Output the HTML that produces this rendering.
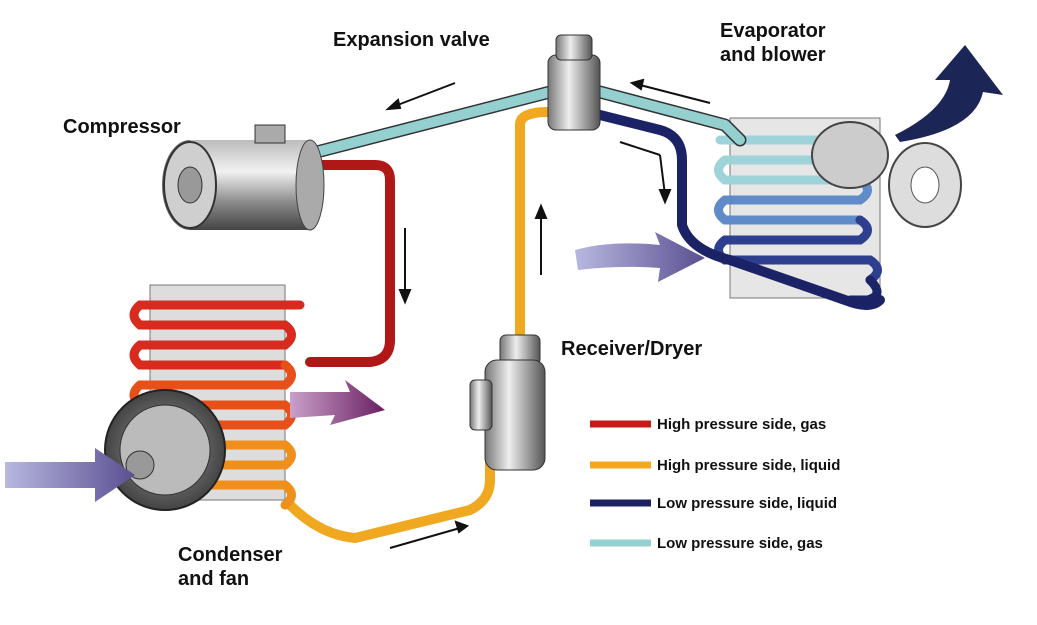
<!DOCTYPE html>
<html><head><meta charset="utf-8"><style>
html,body{margin:0;padding:0;background:#fff;}
svg{display:block;}
text{font-family:"Liberation Sans",Arial,sans-serif;font-weight:bold;fill:#111;}
</style></head><body>
<svg width="1037" height="625" viewBox="0 0 1037 625" xmlns="http://www.w3.org/2000/svg">
<defs>
<linearGradient id="cyl" x1="0" y1="0" x2="0" y2="1">
<stop offset="0" stop-color="#bbb"/><stop offset="0.35" stop-color="#f2f2f2"/><stop offset="0.7" stop-color="#888"/><stop offset="1" stop-color="#444"/></linearGradient>
<linearGradient id="rcv" x1="0" y1="0" x2="1" y2="0">
<stop offset="0" stop-color="#777"/><stop offset="0.4" stop-color="#eee"/><stop offset="1" stop-color="#555"/></linearGradient>
<radialGradient id="fan" cx="0.5" cy="0.5" r="0.5"><stop offset="0" stop-color="#999"/><stop offset="1" stop-color="#444"/></radialGradient>
<linearGradient id="purp" x1="0" y1="0" x2="1" y2="0"><stop offset="0" stop-color="#b8b8e0"/><stop offset="1" stop-color="#5a4f92"/></linearGradient>
<linearGradient id="purp2" x1="0" y1="0" x2="1" y2="0"><stop offset="0" stop-color="#c9a0c9"/><stop offset="1" stop-color="#6a1f62"/></linearGradient>
</defs>

<!-- evaporator frame -->
<rect x="730" y="118" width="150" height="180" fill="#e6e6e6" stroke="#777"/>
<!-- evaporator coils -->
<g fill="none" stroke-width="9" stroke-linecap="round">
<path d="M720 140 H860 Q875 150 860 160 H725 Q712 170 725 180 H860" stroke="#9fd3da"/>
<path d="M860 180 Q875 190 860 200 H725 Q712 210 725 220 H860" stroke="#5f8cc8"/>
<path d="M860 220 Q875 230 860 240 H725 Q712 250 725 260 H870 Q885 270 870 280" stroke="#2d3f8e"/>
<path d="M870 280 Q885 295 868 300 H850" stroke="#1a2466"/>
</g>
<!-- blower -->
<ellipse cx="850" cy="155" rx="38" ry="33" fill="#ccc" stroke="#444" stroke-width="2"/>
<ellipse cx="925" cy="185" rx="36" ry="42" fill="#ddd" stroke="#444" stroke-width="2"/>
<ellipse cx="925" cy="185" rx="14" ry="18" fill="#fff" stroke="#555"/>
<!-- big navy arrow -->
<path d="M895 135 Q945 110 950 80 L935 80 L965 45 L1003 95 L983 92 Q975 130 900 142 Z" fill="#1c2656"/>

<!-- pipes -->
<g fill="none" stroke-linecap="round" stroke-linejoin="round">
<path d="M305 155 L550 92" stroke="#333" stroke-width="13"/>
<path d="M305 155 L550 92" stroke="#94d0d0" stroke-width="10"/>
<path d="M600 92 L725 125 L740 140" stroke="#333" stroke-width="13"/>
<path d="M600 92 L725 125 L740 140" stroke="#94d0d0" stroke-width="10"/>
<path d="M315 165 H375 Q390 165 390 180 V340 Q390 360 370 362 H310" stroke="#b01818" stroke-width="10"/>
<path d="M520 340 V125 Q520 112 548 112" stroke="#f0a820" stroke-width="10"/>
<path d="M290 505 Q320 535 355 538 L470 510 Q490 500 490 480 V450" stroke="#f0a820" stroke-width="10"/>
<path d="M600 115 L660 130 Q682 136 682 160 V225 Q690 250 730 260 L845 300 Q870 310 880 300" stroke="#1c2266" stroke-width="10"/>
</g>

<!-- condenser -->
<rect x="150" y="285" width="135" height="215" fill="#ddd" stroke="#777"/>
<g fill="none" stroke-width="9" stroke-linecap="round">
<path d="M300 305 H140 Q128 315 140 325 H285 Q298 335 285 345 H140 Q128 355 140 365 H285" stroke="#d82a1e"/>
<path d="M285 365 Q298 375 285 385 H140 Q128 395 140 405 H285 Q298 415 285 425 H140" stroke="#e8501a"/>
<path d="M140 425 Q128 435 140 445 H285 Q298 455 285 465 H190 Q178 475 190 485 H285 Q298 495 285 505" stroke="#f0901c"/>
</g>
<!-- fan -->
<circle cx="165" cy="450" r="60" fill="url(#fan)" stroke="#222" stroke-width="2"/>
<circle cx="165" cy="450" r="45" fill="#bbb" stroke="#333"/>
<circle cx="140" cy="465" r="14" fill="#999" stroke="#333"/>
<!-- purple arrows -->
<path d="M5 462 H95 V448 L135 475 L95 502 V488 H5 Z" fill="url(#purp)"/>
<path d="M290 392 H350 L345 380 L385 410 L330 425 L335 415 L290 418 Z" fill="url(#purp2)"/>
<path d="M575 250 Q610 240 660 245 L655 232 L705 258 L658 282 L660 268 Q620 265 578 270 Z" fill="url(#purp)"/>

<!-- compressor -->
<ellipse cx="190" cy="185" rx="28" ry="45" fill="#666"/>
<rect x="190" y="140" width="120" height="90" fill="url(#cyl)"/>
<ellipse cx="310" cy="185" rx="14" ry="45" fill="#aaa" stroke="#444"/>
<ellipse cx="190" cy="185" rx="26" ry="43" fill="#cfcfcf" stroke="#333" stroke-width="2"/>
<ellipse cx="190" cy="185" rx="12" ry="18" fill="#999" stroke="#333"/>
<rect x="255" y="125" width="30" height="18" fill="#aaa" stroke="#333"/>

<!-- expansion valve -->
<rect x="548" y="55" width="52" height="75" rx="8" fill="url(#rcv)" stroke="#333"/>
<rect x="556" y="35" width="36" height="25" rx="5" fill="url(#rcv)" stroke="#333"/>
<!-- receiver -->
<rect x="500" y="335" width="40" height="30" rx="6" fill="url(#rcv)" stroke="#333"/>
<rect x="485" y="360" width="60" height="110" rx="12" fill="url(#rcv)" stroke="#333"/>
<rect x="470" y="380" width="22" height="50" rx="5" fill="url(#rcv)" stroke="#333"/>

<!-- flow arrows -->
<g stroke="#111" stroke-width="2" fill="#111">
<line x1="455" y1="83" x2="395" y2="106"/><polygon points="388,109 398,100 400,108"/>
<line x1="710" y1="103" x2="640" y2="85"/><polygon points="632,83 643,80 641,89"/>
<line x1="620" y1="142" x2="660" y2="155" fill="none"/><line x1="660" y1="155" x2="665" y2="195"/><polygon points="665,202 660,190 670,190"/>
<line x1="405" y1="228" x2="405" y2="295"/><polygon points="405,302 400,290 410,290"/>
<line x1="541" y1="275" x2="541" y2="213"/><polygon points="541,206 536,218 546,218"/>
<line x1="390" y1="548" x2="460" y2="528"/><polygon points="467,526 456,522 459,532"/>
</g>

<!-- labels -->
<text x="333" y="46" font-size="20">Expansion valve</text>
<text x="720" y="37" font-size="20">Evaporator</text>
<text x="720" y="61" font-size="20">and blower</text>
<text x="63" y="133" font-size="20">Compressor</text>
<text x="561" y="355" font-size="20">Receiver/Dryer</text>
<text x="178" y="561" font-size="20">Condenser</text>
<text x="178" y="585" font-size="20">and fan</text>

<!-- legend -->
<g stroke-width="7" stroke-linecap="butt">
<line x1="590" y1="424" x2="651" y2="424" stroke="#c81a18"/>
<line x1="590" y1="465" x2="651" y2="465" stroke="#f4a820"/>
<line x1="590" y1="503" x2="651" y2="503" stroke="#1c2260"/>
<line x1="590" y1="543" x2="651" y2="543" stroke="#94d0d0"/>
</g>
<text x="657" y="429" font-size="15">High pressure side, gas</text>
<text x="657" y="470" font-size="15">High pressure side, liquid</text>
<text x="657" y="508" font-size="15">Low pressure side, liquid</text>
<text x="657" y="548" font-size="15">Low pressure side, gas</text>
</svg>
</body></html>
